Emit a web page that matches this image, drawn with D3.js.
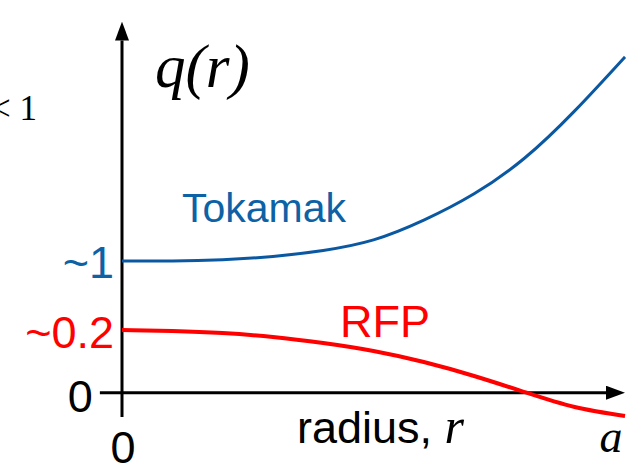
<!DOCTYPE html>
<html>
<head>
<meta charset="utf-8">
<script src="https://cdn.jsdelivr.net/npm/d3@7"></script>
<style>
  body { margin: 0; background: #fff; }
  svg { display: block; }
</style>
</head>
<body>
<div id="chart"></div>
<script>
// radius grid (r / a) and schematic q profiles
const radius = [0, 0.1, 0.2, 0.3, 0.4, 0.5, 0.6, 0.7, 0.8, 0.9, 1.0];
const qTokamak = [1.0, 1.0, 1.01, 1.035, 1.08, 1.16, 1.31, 1.51, 1.78, 2.14, 2.55];
const qRFP = [0.476, 0.468, 0.453, 0.423, 0.377, 0.317, 0.233, 0.127, 0.005, -0.109, -0.177];

// y tick labels (schematic, not to scale)
const yTickValues = [0, 0.476, 1];
const yTickLabels = ["0", "~0.2", "~1"];
const yTickColors = ["#000", "#ff0000", "#0d62a6"];
const xTickValues = [0, 1];
const xTickLabels = ["0", "a"];

const width = 638, height = 475;
const blue = "#0b58a2", red = "#ff0000";
const sans = "'Liberation Sans', Arial, sans-serif";
const serif = "'Liberation Serif', 'Times New Roman', serif";

const x = d3.scaleLinear().domain([0, 1]).range([122, 625]);
const y = d3.scaleLinear().domain([0, 1]).range([392.7, 261]);

const svg = d3.select("#chart")
  .append("svg")
  .attr("width", width)
  .attr("height", height);

// arrow head
svg.append("defs").append("marker")
  .attr("id", "arrow")
  .attr("markerUnits", "userSpaceOnUse")
  .attr("viewBox", "0 0 19 14")
  .attr("refX", 0)
  .attr("refY", 7)
  .attr("markerWidth", 19)
  .attr("markerHeight", 14)
  .attr("orient", "auto")
  .append("path")
  .attr("d", "M0,0 L19,7 L0,14 Z")
  .attr("fill", "#000");

// axes
svg.append("line")
  .attr("x1", x(0)).attr("y1", y(-0.185))
  .attr("x2", x(0)).attr("y2", y(2.81) + 18)
  .attr("stroke", "#000").attr("stroke-width", 3)
  .attr("marker-end", "url(#arrow)");

svg.append("line")
  .attr("x1", x(-0.044)).attr("y1", y(0))
  .attr("x2", x(1) - 19).attr("y2", y(0))
  .attr("stroke", "#000").attr("stroke-width", 3)
  .attr("marker-end", "url(#arrow)");

// curves
const line = d3.line()
  .x((d, i) => x(radius[i]))
  .y(d => y(d))
  .curve(d3.curveNatural);

svg.append("path")
  .datum(qTokamak)
  .attr("d", line)
  .attr("fill", "none")
  .attr("stroke", blue)
  .attr("stroke-width", 3);

svg.append("path")
  .datum(qRFP)
  .attr("d", line)
  .attr("fill", "none")
  .attr("stroke", red)
  .attr("stroke-width", 4);

// y tick labels
svg.selectAll(".ytick")
  .data(yTickValues)
  .enter()
  .append("text")
  .attr("class", "ytick")
  .attr("x", (d, i) => i === 0 ? x(-0.044) - 7 : x(0) - 8)
  .attr("y", (d, i) => y(d) + 17 + (i === 0 ? 2 : i === 1 ? 1 : 0))
  .attr("text-anchor", "end")
  .attr("font-family", sans)
  .attr("font-size", 45)
  .attr("fill", (d, i) => yTickColors[i])
  .text((d, i) => yTickLabels[i]);

// x tick labels
svg.append("text")
  .attr("x", x(xTickValues[0]) + 1)
  .attr("y", 463)
  .attr("text-anchor", "middle")
  .attr("font-family", sans)
  .attr("font-size", 45)
  .text(xTickLabels[0]);

svg.append("text")
  .attr("x", x(xTickValues[1]) - 14)
  .attr("y", 452)
  .attr("text-anchor", "middle")
  .attr("font-family", serif)
  .attr("font-style", "italic")
  .attr("font-size", 46)
  .text(xTickLabels[1]);

// axis titles
const xTitle = svg.append("text")
  .attr("x", 297)
  .attr("y", 443)
  .attr("font-family", sans)
  .attr("font-size", 45);
xTitle.append("tspan").text("radius, ");
xTitle.append("tspan")
  .attr("font-family", serif)
  .attr("font-style", "italic")
  .attr("font-size", 50)
  .text("r");

svg.append("text")
  .attr("x", 155)
  .attr("y", 87)
  .attr("font-family", serif)
  .attr("font-style", "italic")
  .attr("font-size", 61)
  .text("q(r)");

// leftover text cut at the left edge, as in the source figure
svg.append("text")
  .attr("x", 37)
  .attr("y", 120)
  .attr("text-anchor", "end")
  .attr("font-family", serif)
  .attr("font-size", 35)
  .text("< 1");

// series labels
svg.append("text")
  .attr("x", 182)
  .attr("y", 222)
  .attr("font-family", sans)
  .attr("font-size", 41)
  .attr("fill", "#0d62a6")
  .text("Tokamak");

svg.append("text")
  .attr("x", 340)
  .attr("y", 337)
  .attr("font-family", sans)
  .attr("font-size", 45)
  .attr("fill", red)
  .text("RFP");
</script>
</body>
</html>
